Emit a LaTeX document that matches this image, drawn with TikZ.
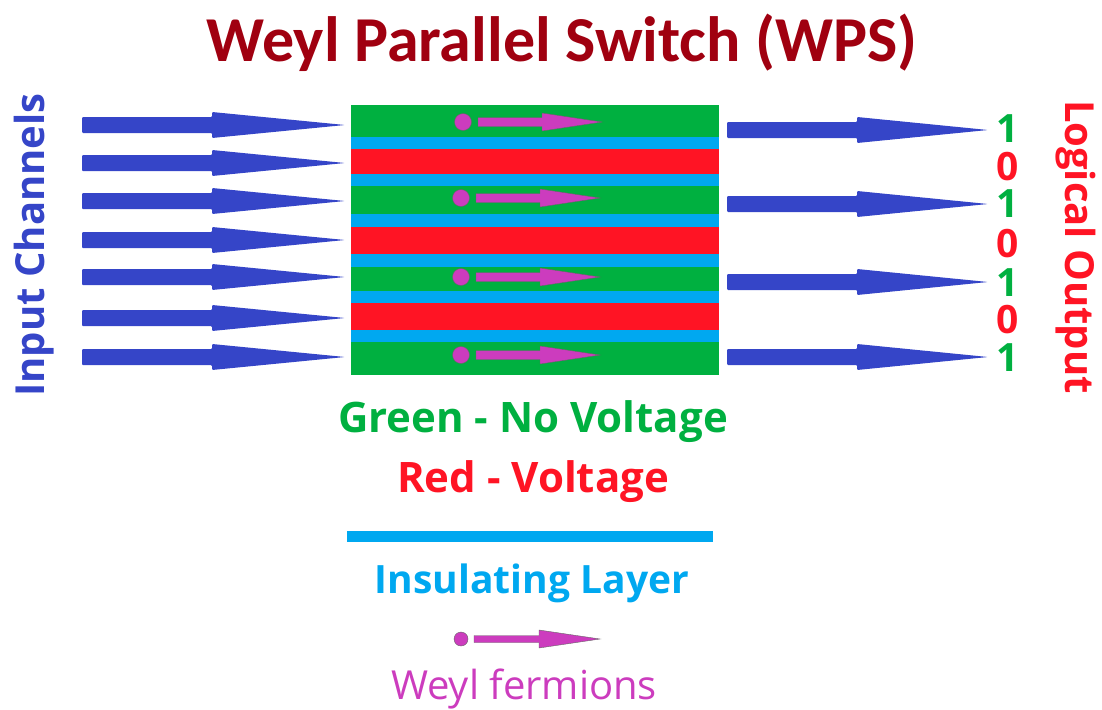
\documentclass[tikz,border=0pt]{standalone}
\usepackage{fontspec}
\setmainfont{Open Sans}
\newfontfamily\titlefont{Carlito}
\usepackage{xcolor}
\definecolor{myblue}{RGB}{53,69,200}
\definecolor{mygreen}{RGB}{0,176,64}
\definecolor{myred}{RGB}{255,20,36}
\definecolor{mycyan}{RGB}{0,168,240}
\definecolor{mypink}{RGB}{204,60,190}
\definecolor{mydarkred}{RGB}{160,0,16}

\begin{document}
\begin{tikzpicture}[x=1pt,y=-1pt,
  txt/.style={inner sep=0pt,font=\bfseries\fontsize{42}{44}\selectfont},
  bit/.style={inner sep=0pt,font=\bfseries\fontsize{39}{40}\selectfont}]
  \useasboundingbox (0,0) rectangle (1102,709);
  \def\xa{351}
  \def\xb{719}

  %Title
  \node[inner sep=0pt,anchor=base,text=mydarkred,font=\titlefont\bfseries\fontsize{64}{66}\selectfont] (title) at (562,62) {Weyl Parallel Switch (WPS)};

  %Input arrows
  \foreach \y in {125,163,201,240,277,318,357}
  {
    \fill[myblue,rounded corners=1pt] (82,\y-8) -- (212,\y-8) -- (212,\y-13) -- (345,\y) -- (212,\y+13) -- (212,\y+8) -- (82,\y+8) -- cycle;
  }
  %Output arrows
  \foreach \y in {130,204,282,357}
  {
    \fill[myblue,rounded corners=1pt] (727,\y-8) -- (857,\y-8) -- (857,\y-13) -- (988,\y) -- (857,\y+13) -- (857,\y+8) -- (727,\y+8) -- cycle;
  }

  %Switch: green block, red and insulating layers
  \fill[mygreen] (\xa,105) rectangle (\xb,375);
  \foreach \ya/\yb in {149/174,227/254,303/330}
    \fill[myred] (\xa,\ya) rectangle (\xb,\yb);
  \foreach \ya/\yb in {137/149,174/186,214/227,254/267,291/303,330/342}
    \fill[mycyan] (\xa,\ya) rectangle (\xb,\yb);

  %Weyl fermions
  \foreach \x/\y in {463/122,461/198,461/277,461/355}
  {
    \filldraw[fill=mypink,draw=black!60,line width=0.4pt] (\x,\y) circle (8.5);
    \filldraw[fill=mypink,draw=black!60,line width=0.4pt] (\x+15,\y-4.5) -- (\x+79,\y-4.5) -- (\x+79,\y-9) -- (\x+139,\y) -- (\x+79,\y+9) -- (\x+79,\y+4.5) -- (\x+15,\y+4.5) -- cycle;
  }

  %Logical output
  \foreach \y/\b/\c [count=\i] in {129/1/mygreen,167/0/myred,204/1/mygreen,244/0/myred,283/1/mygreen,320/0/myred,358/1/mygreen}
    \node[bit,text=\c] (bit\i) at (1008,\y) {\b};

  %Side labels
  \node[txt,rotate=90,text=myblue,font=\bfseries\fontsize{40}{42}\selectfont] (input) at (34,245) {Input Channels};
  \node[txt,rotate=-90,text=myred,font=\bfseries\fontsize{40}{42}\selectfont] (output) at (1076,247) {Logical Output};

  %Legend
  \node[txt,anchor=base,text=mygreen] (green) at (533,432) {Green - No Voltage};
  \node[txt,anchor=base,text=myred] (red) at (533,492) {Red - Voltage};
  \fill[mycyan] (347,531) rectangle (713,542);
  \node[txt,anchor=base,text=mycyan,font=\bfseries\fontsize{39}{42}\selectfont] (insul) at (532,593) {Insulating Layer};
  \filldraw[fill=mypink,draw=black!60,line width=0.4pt] (461,639) circle (7);
  \filldraw[fill=mypink,draw=black!60,line width=0.4pt] (474,635.5) -- (539,635.5) -- (539,630) -- (600,639) -- (539,648) -- (539,642.5) -- (474,642.5) -- cycle;
  \node[inner sep=0pt,anchor=base,text=mypink,font=\fontsize{40}{42}\selectfont] (weyl) at (524,699) {Weyl fermions};

\end{tikzpicture}
\end{document}
